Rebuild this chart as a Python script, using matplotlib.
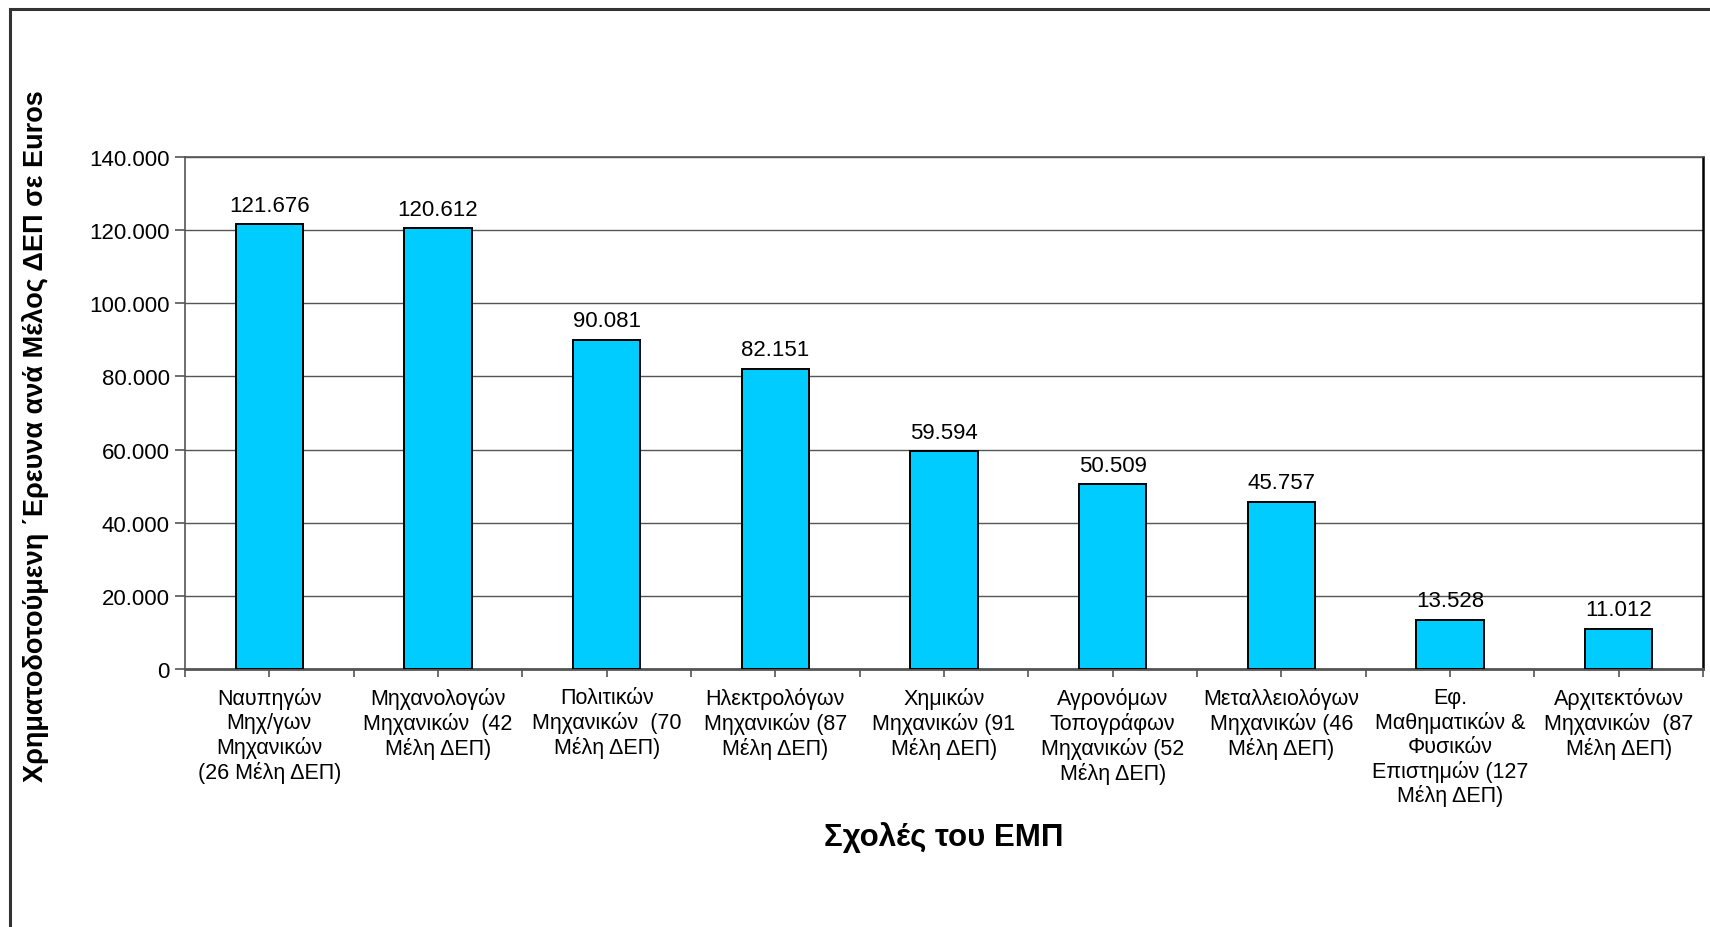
import matplotlib.pyplot as plt
from matplotlib.patches import Rectangle
import numpy as np

plt.rcParams['font.family'] = ['Liberation Sans', 'DejaVu Sans']

# Σχολές και χρηματοδότηση ανά μέλος ΔΕΠ
categories = [
    'Ναυπηγών\nΜηχ/γων\nΜηχανικών\n(26 Μέλη ΔΕΠ)',
    'Μηχανολογών\nΜηχανικών  (42\nΜέλη ΔΕΠ)',
    'Πολιτικών\nΜηχανικών  (70\nΜέλη ΔΕΠ)',
    'Ηλεκτρολόγων\nΜηχανικών (87\nΜέλη ΔΕΠ)',
    'Χημικών\nΜηχανικών (91\nΜέλη ΔΕΠ)',
    'Αγρονόμων\nΤοπογράφων\nΜηχανικών (52\nΜέλη ΔΕΠ)',
    'Μεταλλειολόγων\nΜηχανικών (46\nΜέλη ΔΕΠ)',
    'Εφ.\nΜαθηματικών &\nΦυσικών\nΕπιστημών (127\nΜέλη ΔΕΠ)',
    'Αρχιτεκτόνων\nΜηχανικών  (87\nΜέλη ΔΕΠ)',
]
values = [121676, 120612, 90081, 82151, 59594, 50509, 45757, 13528, 11012]
yticks = [0, 20000, 40000, 60000, 80000, 100000, 120000, 140000]


def fmt(v):
    # τελεία ως διαχωριστικό χιλιάδων
    return f'{v:,}'.replace(',', '.')


fig = plt.figure(figsize=(17.1, 9.28), dpi=100)
ax = fig.add_axes([185 / 1710, 1 - 670 / 928, (1703 - 185) / 1710, (670 - 158) / 928])

# Εξωτερικό πλαίσιο (κόβεται δεξιά και κάτω)
fig.patches.append(Rectangle((10 / 1710, -0.05), 1.1, 1 - 10 / 928 + 0.05,
                             transform=fig.transFigure, fill=False,
                             edgecolor='#333333', linewidth=2.2, zorder=0))

x = np.arange(len(values))
bars = ax.bar(x, values, width=0.4, color='#00CCFF', edgecolor='black',
              linewidth=1.4, zorder=3)

for xi, v in zip(x, values):
    ax.annotate(fmt(v), (xi, v), xytext=(0, 6), textcoords='offset points',
                ha='center', va='bottom', fontsize=16)

ax.set_xlim(-0.5, len(values) - 0.5)
ax.set_ylim(0, 140000)
ax.set_yticks(yticks)
ax.set_yticklabels([fmt(t) for t in yticks], fontsize=16)
ax.yaxis.grid(True, color='#555555', linewidth=1.0, zorder=0)

ax.set_xticks(np.arange(len(values) + 1) - 0.5)
ax.set_xticklabels([])
ax.set_xticks(x, minor=True)
ax.set_xticklabels(categories, minor=True, fontsize=15.5, linespacing=1.17)
ax.tick_params(axis='x', which='both', length=6, width=1.2, color='#555555', pad=7)
ax.tick_params(axis='y', length=7, width=1.2, color='#555555', pad=4)

for s in ['left', 'top']:
    ax.spines[s].set_color('#555555')
    ax.spines[s].set_linewidth(1.2)
ax.spines['bottom'].set_color('#555555')
ax.spines['bottom'].set_linewidth(2)
ax.spines['right'].set_color('black')
ax.spines['right'].set_linewidth(1.8)

fig.text(944 / 1710, 1 - 838 / 928, 'Σχολές του ΕΜΠ', ha='center', va='center',
         fontsize=22.5, fontweight='bold')
fig.text(36 / 1710, 1 - 436 / 928, 'Χρηματοδοτούμενη ΄Ερευνα ανά Μέλος ΔΕΠ σε Euros',
         ha='center', va='center', rotation=90, fontsize=19.5, fontweight='bold')

plt.savefig('out.png', dpi=100)
plt.close(fig)
